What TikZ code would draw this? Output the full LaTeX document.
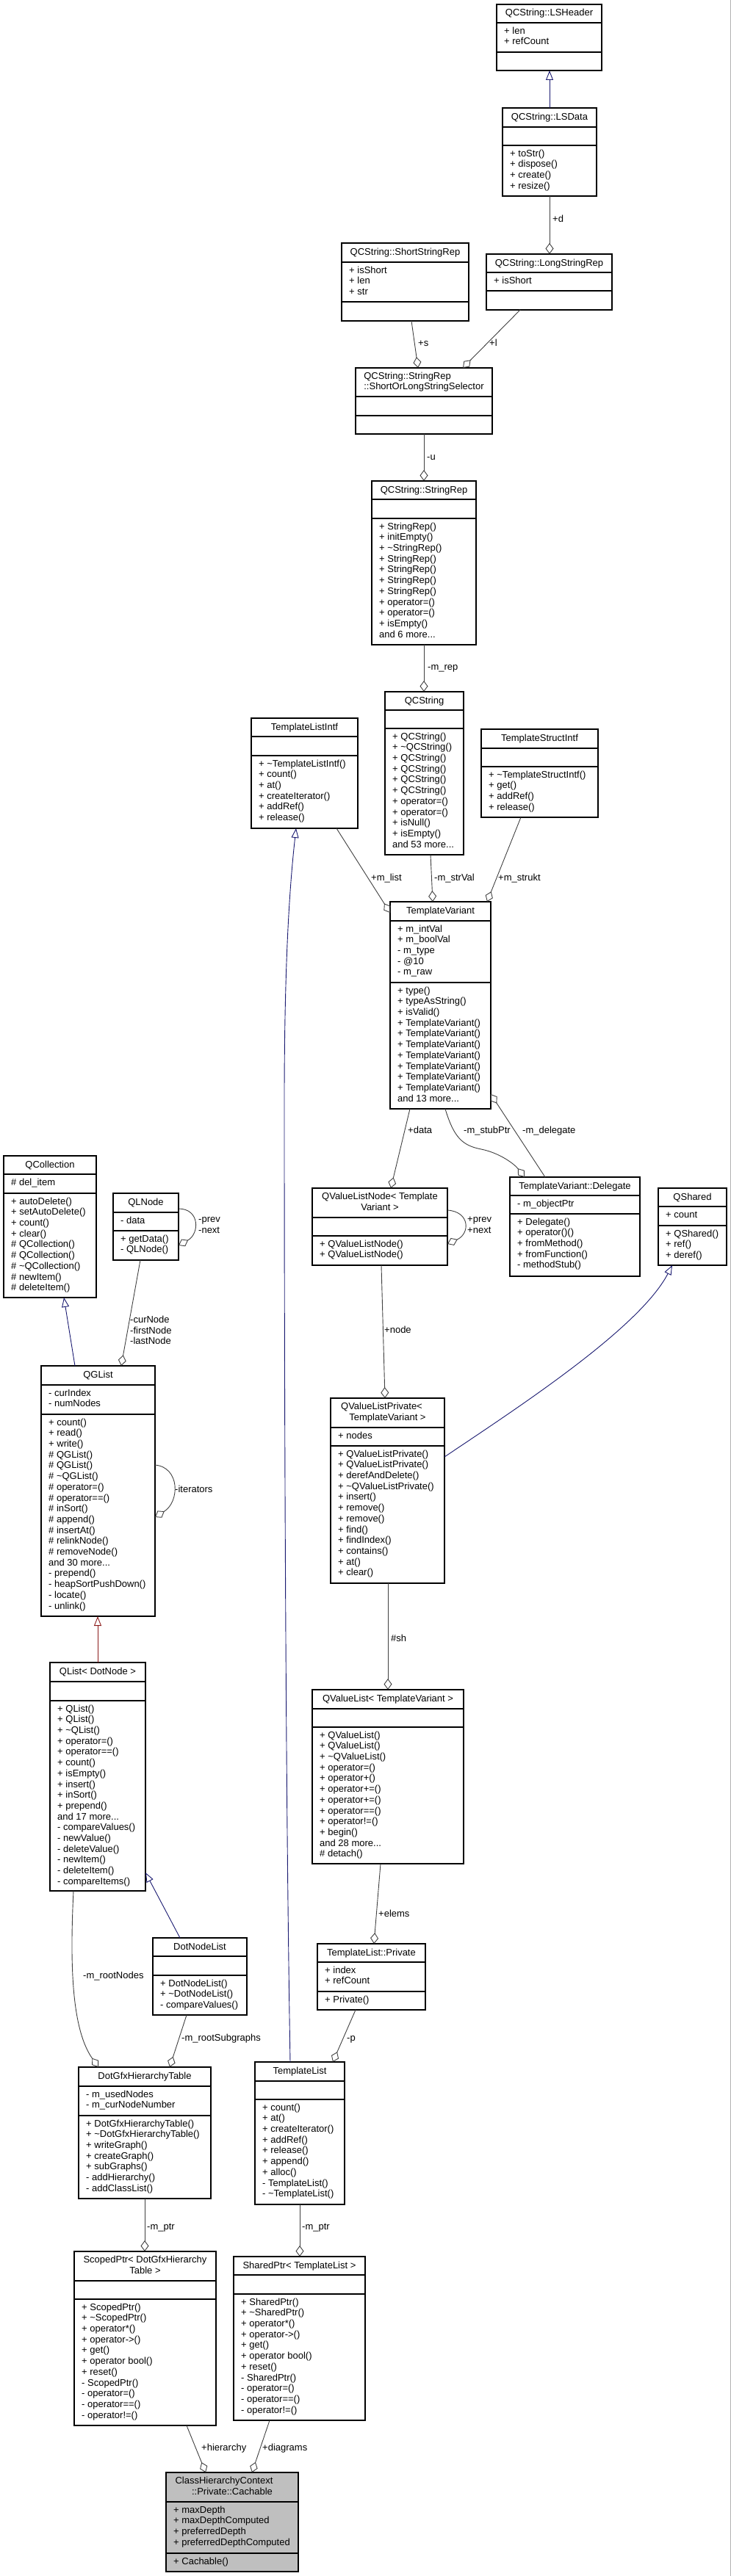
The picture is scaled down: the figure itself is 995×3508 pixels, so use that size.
\documentclass[tikz,border=0pt]{standalone}
\usepackage{fontspec}
\setmainfont{Liberation Sans}
\usetikzlibrary{arrows.meta}
\definecolor{edgegray}{HTML}{404040}
\definecolor{inhnavy}{HTML}{191970}
\definecolor{privred}{HTML}{8B1A1A}
\definecolor{hilite}{HTML}{BFBFBF}
\newcommand{\ts}{\rule[-3pt]{0pt}{13pt}}
\newcommand{\lsstrut}{\rule{0pt}{10pt}}
\tikzset{
  every node/.style={font=\fontsize{13}{14.7}\selectfont, inner sep=0pt},
  clsframe/.style={draw=black, line width=1.1pt, anchor=north west, inner sep=0pt, outer sep=0pt},
  clsline/.style={draw=black, line width=1.1pt},
  clstitle/.style={align=center, execute at begin node=\ts, execute at end node=\ts},
  clslist/.style={align=left, anchor=north west, execute at begin node=\lsstrut},
  agg/.style={draw=edgegray, line width=0.9pt, -{Diamond[open, length=15pt, width=11pt]}},
  inh/.style={draw=inhnavy, line width=0.9pt, -{Triangle[open, length=13pt, width=10pt]}},
  privinh/.style={inh, draw=privred},
  elabel/.style={anchor=west, align=left, execute at begin node=\ts, execute at end node=\ts},
}
% #1 fill, #2 name, #3 L, #4 T, #5 R, #6 B, #7 S1, #8 S2
\newcommand{\clsbox}[8][white]{%
  \node[clsframe, fill=#1, minimum width={#5-#3}, minimum height={#6-#4}] (#2) at (#3,#4) {};
  \draw[clsline] (#3,#7) -- (#5,#7);
  \draw[clsline] (#3,#8) -- (#5,#8);
  \def\cN{#2}\def\cL{#3}\def\cT{#4}\def\cR{#5}\def\cSa{#7}\def\cSb{#8}%
  \clstext}
\newcommand{\clstext}[3]{%
  \node[clstitle] (\cN-t) at ({(\cL+\cR)/2},{(\cT+\cSa)/2}) {#1};
  \ifx\relax#2\relax\else\node[clslist] (\cN-a) at ({\cL+10},{\cSa+5.5}) {#2};\fi
  \ifx\relax#3\relax\else\node[clslist] (\cN-m) at ({\cL+10},{\cSb+5.5}) {#3};\fi
}
\begin{document}
\begin{tikzpicture}[x=1pt,y=-1pt]
\useasboundingbox (0,0) rectangle (995,3508);
\draw[draw=gray!60, line width=1pt] (994.5,0) -- (994.5,3508);

% ---------- boxes ----------
\clsbox{lsheader}{676}{6}{819}{96}{31}{71}{QCString::LSHeader}{+ len\\+ refCount}{}
\clsbox{lsdata}{684}{147}{812}{267}{173}{198}{QCString::LSData}{}{+ toStr()\\+ dispose()\\+ create()\\+ resize()}
\clsbox{longrep}{662}{346}{833}{422}{371}{396}{QCString::LongStringRep}{+ isShort}{}
\clsbox{shortrep}{465}{331}{638}{437}{357}{411}{QCString::ShortStringRep}{+ isShort\\+ len\\+ str}{}
\clsbox{selector}{484}{501}{670}{591}{540}{566}{\begin{tabular}{@{}l@{}}QCString::StringRep\\::ShortOrLongStringSelector\end{tabular}}{}{}
\clsbox{stringrep}{506}{655}{648}{878}{680}{706}{QCString::StringRep}{}{+ StringRep()\\+ initEmpty()\\+ \textasciitilde StringRep()\\+ StringRep()\\+ StringRep()\\+ StringRep()\\+ StringRep()\\+ operator=()\\+ operator=()\\+ isEmpty()\\and 6 more...}
\clsbox{qcstring}{524}{942}{631}{1164}{967}{992}{QCString}{}{+ QCString()\\+ \textasciitilde QCString()\\+ QCString()\\+ QCString()\\+ QCString()\\+ QCString()\\+ operator=()\\+ operator=()\\+ isNull()\\+ isEmpty()\\and 53 more...}
\clsbox{tlintf}{342}{978}{487}{1128}{1003}{1029}{TemplateListIntf}{}{+ \textasciitilde TemplateListIntf()\\+ count()\\+ at()\\+ createIterator()\\+ addRef()\\+ release()}
\clsbox{tsintf}{655}{993}{814}{1113}{1019}{1044}{TemplateStructIntf}{}{+ \textasciitilde TemplateStructIntf()\\+ get()\\+ addRef()\\+ release()}
\clsbox{tvariant}{531}{1228}{668}{1510}{1254}{1338}{TemplateVariant}{+ m\_intVal\\+ m\_boolVal\\- m\_type\\- @10\\- m\_raw}{+ type()\\+ typeAsString()\\+ isValid()\\+ TemplateVariant()\\+ TemplateVariant()\\+ TemplateVariant()\\+ TemplateVariant()\\+ TemplateVariant()\\+ TemplateVariant()\\+ TemplateVariant()\\and 13 more...}
\clsbox{qcollection}{5}{1574}{131}{1767}{1599}{1625}{QCollection}{\# del\_item}{+ autoDelete()\\+ setAutoDelete()\\+ count()\\+ clear()\\\# QCollection()\\\# QCollection()\\\# \textasciitilde QCollection()\\\# newItem()\\\# deleteItem()}
\clsbox{qlnode}{154}{1625}{243}{1716}{1651}{1676}{QLNode}{- data}{+ getData()\\- QLNode()}
\clsbox{qglist}{56}{1860}{211}{2201}{1886}{1926}{QGList}{- curIndex\\- numNodes}{+ count()\\+ read()\\+ write()\\\# QGList()\\\# QGList()\\\# \textasciitilde QGList()\\\# operator=()\\\# operator==()\\\# inSort()\\\# append()\\\# insertAt()\\\# relinkNode()\\\# removeNode()\\and 30 more...\\- prepend()\\- heapSortPushDown()\\- locate()\\- unlink()}
\clsbox{qvlnode}{425}{1618}{609}{1723}{1658}{1683}{QValueListNode< Template\\Variant >}{}{+ QValueListNode()\\+ QValueListNode()}
\clsbox{delegate}{694}{1603}{871}{1738}{1628}{1653}{TemplateVariant::Delegate}{- m\_objectPtr}{+ Delegate()\\+ operator()()\\+ fromMethod()\\+ fromFunction()\\- methodStub()}
\clsbox{qshared}{896}{1618}{989}{1723}{1643}{1669}{QShared}{+ count}{+ QShared()\\+ ref()\\+ deref()}
\clsbox{qvlprivate}{450}{1904}{605}{2156}{1944}{1969}{QValueListPrivate<\rule{16pt}{0pt}\\TemplateVariant >}{+ nodes}{+ QValueListPrivate()\\+ QValueListPrivate()\\+ derefAndDelete()\\+ \textasciitilde QValueListPrivate()\\+ insert()\\+ remove()\\+ remove()\\+ find()\\+ findIndex()\\+ contains()\\+ at()\\+ clear()}
\clsbox{qlistdot}{68}{2264}{198}{2575}{2290}{2316}{QList< DotNode >}{}{+ QList()\\+ QList()\\+ \textasciitilde QList()\\+ operator=()\\+ operator==()\\+ count()\\+ isEmpty()\\+ insert()\\+ inSort()\\+ prepend()\\and 17 more...\\- compareValues()\\- newValue()\\- deleteValue()\\- newItem()\\- deleteItem()\\- compareItems()}
\clsbox{qvaluelist}{425}{2301}{631}{2538}{2327}{2352}{QValueList< TemplateVariant >}{}{+ QValueList()\\+ QValueList()\\+ \textasciitilde QValueList()\\+ operator=()\\+ operator+()\\+ operator+=()\\+ operator+=()\\+ operator==()\\+ operator!=()\\+ begin()\\and 28 more...\\\# detach()}
\clsbox{dotnodelist}{208}{2639}{336}{2744}{2664}{2690}{DotNodeList}{}{+ DotNodeList()\\+ \textasciitilde DotNodeList()\\- compareValues()}
\clsbox{tlprivate}{432}{2647}{579}{2737}{2672}{2712}{TemplateList::Private}{+ index\\+ refCount}{+ Private()}
\clsbox{dotgfx}{107}{2815}{287}{2994}{2841}{2881}{DotGfxHierarchyTable}{- m\_usedNodes\\- m\_curNodeNumber}{+ DotGfxHierarchyTable()\\+ \textasciitilde DotGfxHierarchyTable()\\+ writeGraph()\\+ createGraph()\\+ subGraphs()\\- addHierarchy()\\- addClassList()}
\clsbox{templatelist}{347}{2808}{469}{3002}{2834}{2859}{TemplateList}{}{+ count()\\+ at()\\+ createIterator()\\+ addRef()\\+ release()\\+ append()\\+ alloc()\\- TemplateList()\\- \textasciitilde TemplateList()}
\clsbox{scopedptr}{101}{3066}{294}{3303}{3106}{3131}{ScopedPtr< DotGfxHierarchy\\Table >}{}{+ ScopedPtr()\\+ \textasciitilde ScopedPtr()\\+ operator*()\\+ operator->()\\+ get()\\+ operator bool()\\+ reset()\\- ScopedPtr()\\- operator=()\\- operator==()\\- operator!=()}
\clsbox{sharedptr}{318}{3073}{497}{3296}{3098}{3124}{SharedPtr< TemplateList >}{}{+ SharedPtr()\\+ \textasciitilde SharedPtr()\\+ operator*()\\+ operator->()\\+ get()\\+ operator bool()\\+ reset()\\- SharedPtr()\\- operator=()\\- operator==()\\- operator!=()}
\clsbox[hilite]{cachable}{226}{3367}{406}{3502}{3407}{3477}{ClassHierarchyContext\rule{22pt}{0pt}\\::Private::Cachable}{+ maxDepth\\+ maxDepthComputed\\+ preferredDepth\\+ preferredDepthComputed}{+ Cachable()}

% ---------- connectors ----------
\draw[inh] (748,0 |- lsdata.north) -- (748,0 |- lsheader.south);
\draw[agg] (748,0 |- lsdata.south) -- (748,0 |- longrep.north);
\node[elabel] (lab-d) at (752,299) {+d};
\draw[agg] (708,0 |- longrep.south) -- (630,0 |- selector.north);
\node[elabel] (lab-l) at (666,468) {+l};
\draw[agg] (560,0 |- shortrep.south) -- (569,0 |- selector.north);
\node[elabel] (lab-s) at (569,468) {+s};
\draw[agg] (577,0 |- selector.south) -- (577,0 |- stringrep.north);
\node[elabel] (lab-u) at (581,623) {-u};
\draw[agg] (577,0 |- stringrep.south) -- (577,0 |- qcstring.north);
\node[elabel] (lab-rep) at (582,909) {-m\_rep};

\draw[agg] (458,0 |- tlintf.south) -- (tvariant.west |- 0,1243);
\node[elabel] (lab-list) at (505,1196) {+m\_list};
\draw[agg] (586,0 |- qcstring.south) -- (589,0 |- tvariant.north);
\node[elabel] (lab-strval) at (591,1196) {-m\_strVal};
\draw[agg] (709,0 |- tsintf.south) -- (663,0 |- tvariant.north);
\node[elabel] (lab-strukt) at (678,1196) {+m\_strukt};

\draw[agg] (558,0 |- tvariant.south) -- (532,0 |- qvlnode.north);
\node[elabel] (lab-data) at (555,1540) {+data};
\draw[agg] (606,0 |- tvariant.south) .. controls (618,1550) and (630,1560) .. (655,1565) .. controls (680,1570) and (700,1585) .. (714,0 |- delegate.north);
\node[elabel] (lab-stub) at (631,1540) {-m\_stubPtr};
\draw[agg] (742,0 |- delegate.north) -- (tvariant.east |- 0,1490);
\node[elabel] (lab-deleg) at (711,1540) {-m\_delegate};

\draw[agg] (qlnode.east |- 0,1646) .. controls (272,1646) and (272,1680) .. (qlnode.east |- 0,1696);
\node[elabel] (lab-prevnext) at (270,1670) {-prev\\-next};
\draw[agg] (191,0 |- qlnode.south) -- (165,0 |- qglist.north);
\node[elabel] (lab-nodes) at (177,1813) {-curNode\\-firstNode\\-lastNode};
\draw[inh] (102,0 |- qglist.north) -- (87,0 |- qcollection.south);
\draw[agg] (qglist.east |- 0,1995) .. controls (245,1998) and (245,2045) .. (qglist.east |- 0,2066);
\node[elabel] (lab-iter) at (238,2029) {-iterators};
\draw[privinh] (133,0 |- qlistdot.north) -- (133,0 |- qglist.south);
\draw[inh] (245,0 |- dotnodelist.north) -- (qlistdot.east |- 0,2550);

\draw[agg] (qvlnode.east |- 0,1648) .. controls (640,1650) and (640,1680) .. (qvlnode.east |- 0,1694);
\node[elabel] (lab-pn2) at (636,1670) {+prev\\+next};
\draw[agg] (519,0 |- qvlnode.south) -- (524,0 |- qvlprivate.north);
\node[elabel] (lab-node) at (523,1812) {+node};
\draw[inh] (qvlprivate.east |- 0,1984) .. controls (700,1920) and (870,1810) .. (915,0 |- qshared.south);
\draw[agg] (528,0 |- qvlprivate.south) -- (528,0 |- qvaluelist.north);
\node[elabel] (lab-sh) at (532,2232) {\#sh};
\draw[agg] (518,0 |- qvaluelist.south) -- (509,0 |- tlprivate.north);
\node[elabel] (lab-elems) at (515,2607) {+elems};
\draw[agg] (484,0 |- tlprivate.south) -- (453,0 |- templatelist.north);
\node[elabel] (lab-p) at (472,2776) {-p};
\draw[inh] (395,0 |- templatelist.north) .. controls (388,2400) and (387,1800) .. (387,1500) .. controls (387,1300) and (395,1200) .. (403,0 |- tlintf.south);

\draw[agg] (100,0 |- qlistdot.south) .. controls (96,2660) and (95,2760) .. (134,0 |- dotgfx.north);
\node[elabel] (lab-rootnodes) at (113,2691) {-m\_rootNodes};
\draw[agg] (254,0 |- dotnodelist.south) -- (231,0 |- dotgfx.north);
\node[elabel] (lab-rootsub) at (247,2776) {-m\_rootSubgraphs};
\draw[agg] (197,0 |- dotgfx.south) -- (197,0 |- scopedptr.north);
\node[elabel] (lab-ptr1) at (200,3033) {-m\_ptr};
\draw[agg] (408,0 |- templatelist.south) -- (408,0 |- sharedptr.north);
\node[elabel] (lab-ptr2) at (411,3033) {-m\_ptr};
\draw[agg] (254,0 |- scopedptr.south) -- (280,0 |- cachable.north);
\node[elabel] (lab-hier) at (274,3334) {+hierarchy};
\draw[agg] (367,0 |- sharedptr.south) -- (343,0 |- cachable.north);
\node[elabel] (lab-diag) at (357,3334) {+diagrams};
\end{tikzpicture}
\end{document}
